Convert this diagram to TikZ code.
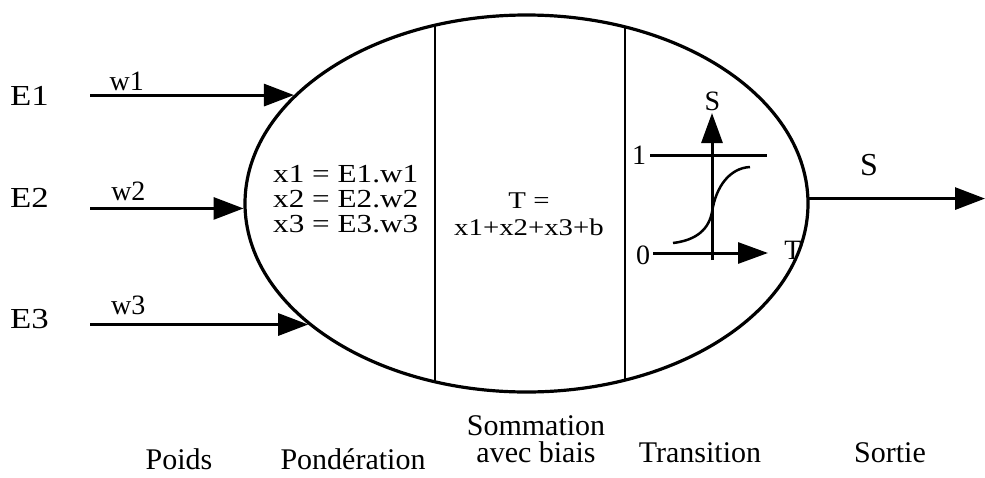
\documentclass[tikz,border=0pt]{standalone}
\usepackage{fontspec}
\setmainfont{Liberation Serif}
\newfontfamily\widefont{Liberation Serif}[FakeStretch=1.2]
\usetikzlibrary{shapes.geometric,arrows.meta,positioning}

\begin{document}
\begin{tikzpicture}[
    x=1pt, y=-1pt,
    inner sep=0pt,
    arrow/.style={-{Triangle[length=30pt,width=22pt]}, line width=3pt},
    sigaxis/.style={-{Triangle[length=30pt,width=21pt]}, line width=3pt},
    stage/.style={font=\fontsize{30}{27}\selectfont, anchor=base},
    entry/.style={font=\widefont\fontsize{29}{30}\selectfont, anchor=base west},
    weight/.style={font=\fontsize{28}{30}\selectfont},
    sigtext/.style={font=\fontsize{28}{30}\selectfont},
]

\useasboundingbox (0,0) rectangle (985,477);

% Neuron body
\node[draw, ellipse, line width=3.2pt, minimum width=563pt, minimum height=377pt] (neuron) at (526.5,203.5) {};
\begin{scope}
    \clip (526.5,203.5) ellipse [x radius=281.5, y radius=188.5];
    \draw[line width=2.5pt] (435,0) -- (435,477);
    \draw[line width=2.5pt] (625,0) -- (625,477);
\end{scope}

% Inputs
\coordinate (start) at (90,0);
\node[entry] (e1) at (10,105) {E1};
\node[entry] (e2) at (10,207) {E2};
\node[entry] (e3) at (10,328) {E3};
\draw[arrow] (neuron.155.8 -| start) -- node[weight, pos=0.18, above=3pt] (w1) {w1} (neuron.155.8);
\draw[arrow] (neuron.181.5 -| start) -- node[weight, pos=0.25, above=6pt] (w2) {w2} (neuron.181.5);
\draw[arrow] (neuron.209 -| start) -- node[weight, pos=0.175, above=8pt] (w3) {w3} (neuron.209);

% Output
\coordinate (end) at (985,0);
\draw[arrow] (neuron.1.1) -- (neuron.1.1 -| end);
\node[font=\fontsize{32}{32}\selectfont, anchor=base] (s_out) at (869,175) {S};

% Ponderation
\node[font=\widefont\fontsize{26}{25}\selectfont, align=left, anchor=base west] (pond) at (273,232) {x1 = E1.w1\\x2 = E2.w2\\x3 = E3.w3};

% Sommation
\node[font=\widefont\fontsize{24}{27}\selectfont, align=center, anchor=base] (somme) at (529,235) {T =\\x1+x2+x3+b};

% Transition (sigmoid)
\coordinate (sigbot) at (712,260);
\coordinate (sigtop) at (712,113);
\coordinate (sigleft) at (653,253);
\coordinate (sigright) at (768,253);
\coordinate (onea) at (650,155);
\coordinate (oneb) at (767,155);
\draw[sigaxis] (sigbot) -- (sigtop);
\draw[sigaxis] (sigleft) -- (sigright);
\draw[line width=3pt] (onea) -- (oneb);
\draw[line width=2.5pt] (673,243) .. controls (698,240) and (709,228) .. (712,212) .. controls (716,186) and (730,168) .. (750,167);
\node[sigtext] (sig_s) at (712.5,101.5) {S};
\node[sigtext] (sig_one) at (639,155) {1};
\node[sigtext] (sig_zero) at (643,255) {0};
\node[sigtext] (sig_t) at (793,250) {T};

% Stage names
\node[stage] (poids) at (179,469) {Poids};
\node[stage] (ponderation) at (353,469) {Pondération};
\node[stage, align=center] (sommation) at (536,462) {Sommation\\avec biais};
\node[stage] (transition) at (700,462) {Transition};
\node[stage] (sortie) at (890,462) {Sortie};

\end{tikzpicture}
\end{document}
